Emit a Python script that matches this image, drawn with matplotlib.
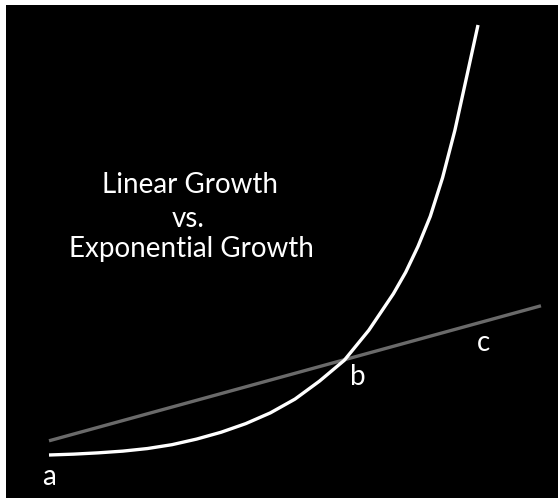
"""
Linear vs exponential growth sketch
"""
import matplotlib.pyplot as plt

# time axis (arbitrary units) and the two curves
t_exp = [0, 0.5, 1, 1.5, 2, 2.5, 3, 3.5, 4, 4.5, 5, 5.5, 6, 6.5, 7,
         7.25, 7.5, 7.75, 8, 8.25, 8.5, 8.72]
y_exp = [0, 0.02, 0.05, 0.09, 0.15, 0.24, 0.37, 0.53, 0.73, 0.98, 1.30,
         1.72, 2.20, 2.90, 3.75, 4.25, 4.85, 5.55, 6.45, 7.55, 8.85, 10.0]
t_lin = [0, 10]
y_lin = [0.33, 3.47]

title_lines = ["Linear Growth", "vs.", "Exponential Growth"]
point_labels = ["a", "b", "c"]

plt.rcParams['font.family'] = ['Lato', 'DejaVu Sans']

fig = plt.figure(figsize=(5.58, 4.98), dpi=100, facecolor="white")
ax = fig.add_axes([6 / 558, 0, 552 / 558, 493 / 498])
ax.set_facecolor("black")
for s in ax.spines.values():
    s.set_visible(False)
ax.set_xticks([])
ax.set_yticks([])
ax.set_xlim(-0.874, 10.346)
ax.set_ylim(-1.0, 10.465)

ax.plot(t_lin, y_lin, color="#6a6a6a", lw=2.4, solid_capstyle="butt")
ax.plot(t_exp, y_exp, color="white", lw=2.4, solid_capstyle="butt")

# title text
title_pos = [(2.87, 6.09), (2.83, 5.30), (2.89, 4.60)]
for txt, (x, y) in zip(title_lines, title_pos):
    ax.text(x, y, txt, color="white", fontsize=20, ha="center", va="baseline")

# point labels
label_pos = [(-0.01, -0.70), (6.28, 1.63), (8.84, 2.42)]
for txt, (x, y) in zip(point_labels, label_pos):
    ax.text(x, y, txt, color="white", fontsize=20, ha="center", va="baseline")

fig.savefig("out.png", dpi=100, facecolor=fig.get_facecolor())
